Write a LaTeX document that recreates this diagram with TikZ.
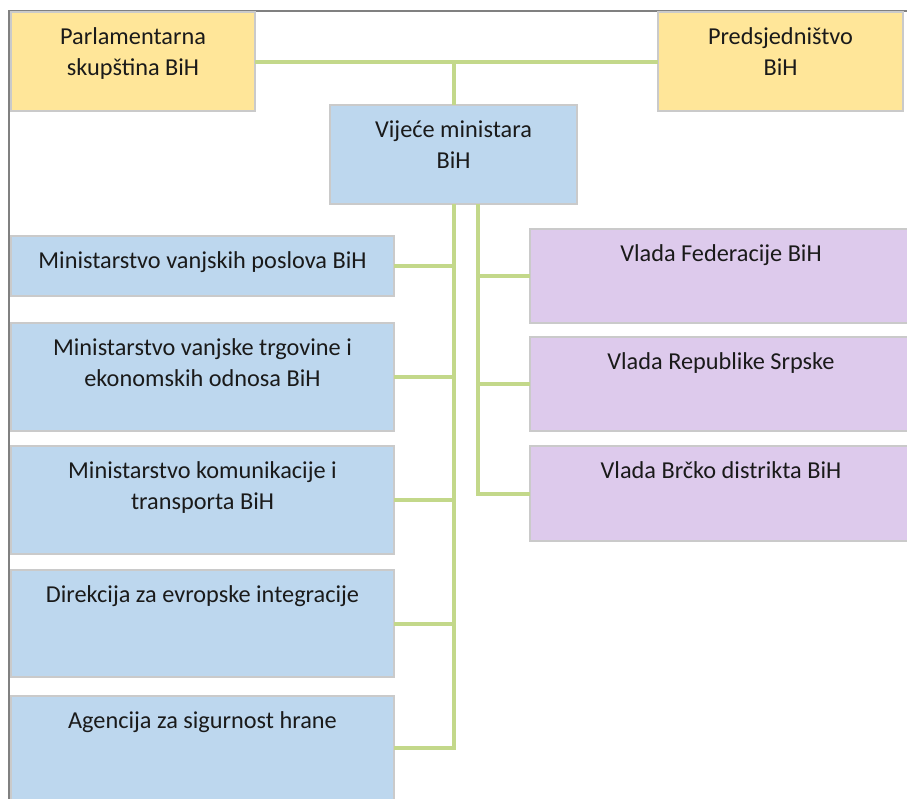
\documentclass[tikz,border=0pt]{standalone}
\usepackage{fontspec}
\setmainfont{Carlito}
\definecolor{yfill}{HTML}{FFE699}
\definecolor{bfill}{HTML}{BDD7EE}
\definecolor{pfill}{HTML}{DDCAEC}
\definecolor{edgegray}{HTML}{CACACA}
\definecolor{conngreen}{HTML}{C3D88A}
\definecolor{framegray}{HTML}{808080}
\definecolor{ink}{HTML}{1A1A1A}
\newcommand{\bxt}[4]{\parbox[c][#2pt][t]{#1pt}{\centering\rule{0pt}{#3pt}#4}}
\begin{document}
\begin{tikzpicture}[x=1pt,y=-1pt,
  box/.style={draw=edgegray,line width=1.5pt,inner sep=0pt,outer sep=0pt,text=ink,
              font=\fontsize{24.3}{31}\selectfont},
  yel/.style={box,fill=yfill},
  blu/.style={box,fill=bfill},
  pur/.style={box,fill=pfill},
  conn/.style={draw=conngreen,line width=4pt,line join=miter},
  framel/.style={draw=framegray,line width=2pt}]
\useasboundingbox (0,0) rectangle (907,798);
\clip (0,0) rectangle (907,798);
\fill[white] (0,0) rectangle (907,798);
\draw[framel] (9,800) -- (9,10.5) -- (910,10.5);

\node[yel] (parl) at (133,61.5) {\bxt{244}{99}{32}{Parlamentarna\\skupština BiH}};
\node[yel] (pred) at (780.5,61.5) {\bxt{245}{99}{32}{Predsjedništvo\\BiH}};
\node[blu] (vije) at (453.5,154.5) {\bxt{247}{99}{32}{Vijeće ministara\\BiH}};

\node[blu] (b1) at (202.5,266) {\bxt{383}{60}{32}{Ministarstvo vanjskih poslova BiH}};
\node[blu] (b2) at (202.5,377) {\bxt{383}{108}{32}{Ministarstvo vanjske trgovine i\\ekonomskih odnosa BiH}};
\node[blu] (b3) at (202.5,500) {\bxt{383}{108}{32}{Ministarstvo komunikacije i\\transporta BiH}};
\node[blu] (b4) at (202.5,623.5) {\bxt{383}{107}{32}{Direkcija za evropske integracije}};
\node[blu] (b5) at (202.5,748) {\bxt{383}{104}{32}{Agencija za sigurnost hrane}};

\node[pur] (p1) at (721,276) {\bxt{382}{94}{32}{Vlada Federacije BiH}};
\node[pur] (p2) at (721,384) {\bxt{382}{94}{32}{Vlada Republike Srpske}};
\node[pur] (p3) at (721,493.5) {\bxt{382}{95}{32}{Vlada Brčko distrikta BiH}};

\coordinate (tl) at (vije.south);
\coordinate (tr) at (478,204);

\draw[conn] (parl.east) -- (pred.west);
\draw[conn] (vije.north |- parl.east) -- (vije.north);

\draw[conn] (tl) |- (b5.east);
\draw[conn] (tl |- b1.east) -- (b1.east);
\draw[conn] (tl |- b2.east) -- (b2.east);
\draw[conn] (tl |- b3.east) -- (b3.east);
\draw[conn] (tl |- b4.east) -- (b4.east);

\draw[conn] (tr) |- (p3.west);
\draw[conn] (tr |- p1.west) -- (p1.west);
\draw[conn] (tr |- p2.west) -- (p2.west);
\end{tikzpicture}
\end{document}
